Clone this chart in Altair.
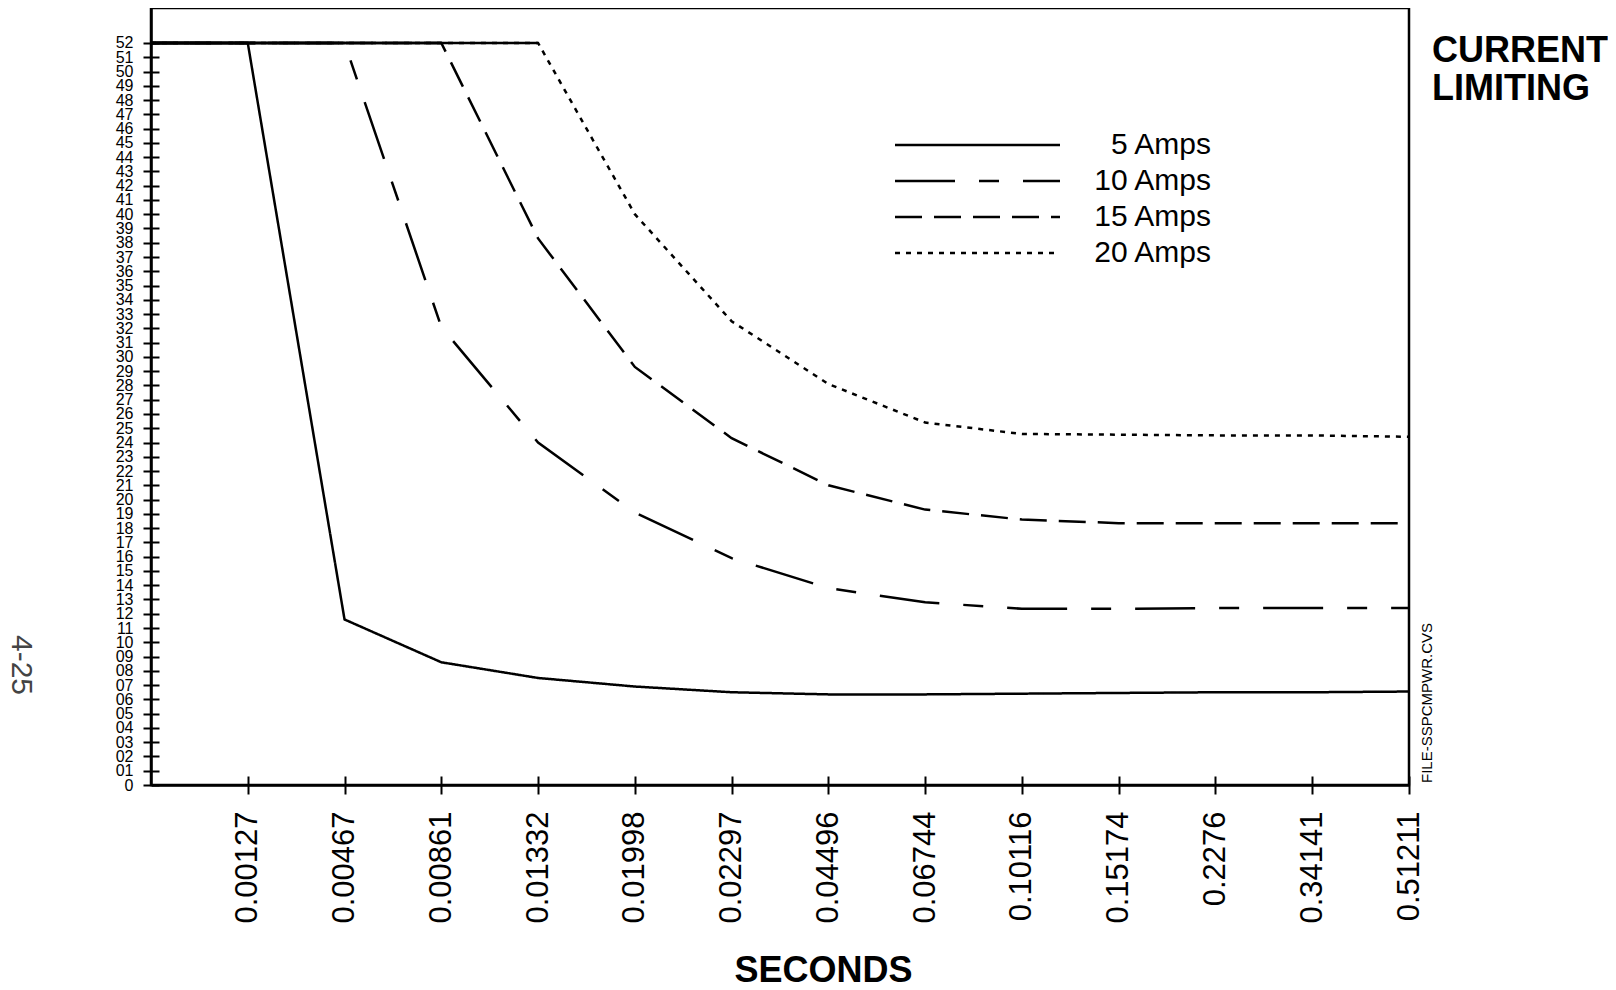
import altair as alt
import pandas as pd

# ---------------- data ----------------
x_labels = ["0.00127", "0.00467", "0.00861", "0.01332", "0.01998", "0.02297",
            "0.04496", "0.06744", "0.10116", "0.15174", "0.2276", "0.34141", "0.51211"]
y_labels = ["0"] + ["%02d" % v for v in range(1, 53)]

series_names = ["5 Amps", "10 Amps", "15 Amps", "20 Amps"]
amps_5 = [52, 52, 11.6, 8.6, 7.5, 6.9, 6.5, 6.35, 6.35, 6.4, 6.45, 6.5, 6.5, 6.55]
amps_10 = [52, 52, 52, 32.1, 24.0, 19.1, 15.9, 13.8, 12.8, 12.35, 12.35, 12.4, 12.4, 12.4]
amps_15 = [52, 52, 52, 52, 38.3, 29.3, 24.3, 21.0, 19.3, 18.6, 18.35, 18.35, 18.35, 18.35]
amps_20 = [52, 52, 52, 52, 52, 40.0, 32.5, 28.1, 25.4, 24.6, 24.55, 24.5, 24.5, 24.4]
limit_value = 52

rows = []
for name, vals in zip(series_names, [amps_5, amps_10, amps_15, amps_20]):
    for i, v in enumerate(vals):
        rows.append({"series": name, "idx": i, "value": v})
df = pd.DataFrame(rows)
legend_df = pd.DataFrame({"series": series_names})
one = pd.DataFrame({"a": [0]})

FONT = "Liberation Sans"
W, H = 1258, 777

x_scale = alt.Scale(domain=[0, 13], nice=False, zero=False)
y_scale = alt.Scale(domain=[0, 54.45], nice=False, zero=True)
dash_scale = alt.Scale(domain=series_names,
                       range=[[1, 0], [60, 24, 20, 24], [27, 12], [5, 6]])

x_expr = "[" + ",".join("'%s'" % s for s in x_labels) + "][datum.value - 1]"
y_expr = "[" + ",".join("'%s'" % s for s in y_labels) + "][datum.value]"
x_vals = list(range(1, 14))
y_vals = list(range(0, 53))

lines = alt.Chart(df).mark_line(color="black", strokeWidth=2.5).encode(
    x=alt.X("idx:Q", scale=x_scale,
            axis=alt.Axis(values=x_vals, labelExpr=x_expr, labelAngle=270,
                          labelFontSize=31, labelPadding=17, labelFlush=False,
                          labelOverlap=False, labelBound=False,
                          tickSize=9, tickWidth=2, domainWidth=2.5,
                          title="SECONDS", titleFontSize=36, titleFontWeight="bold",
                          titleX=672, titleY=196, titleAlign="center",
                          titleBaseline="alphabetic", titleAngle=0)),
    y=alt.Y("value:Q", scale=y_scale,
            axis=alt.Axis(values=y_vals, labelExpr=y_expr, labelFontSize=16,
                          labelPadding=10, labelFlush=False, labelOverlap=False,
                          labelBound=False, tickSize=8, tickWidth=2,
                          domainWidth=2.5, title=None)),
    strokeDash=alt.StrokeDash("series:N", scale=dash_scale, legend=None),
    order="idx:Q",
)

# the shared current-limit plateau is drawn as one solid line
plateau = alt.Chart(df).transform_filter(
    "datum.value >= %s" % limit_value
).mark_line(color="black", strokeWidth=2.5).encode(
    x=alt.X("idx:Q", scale=x_scale, axis=None),
    y=alt.Y("value:Q", scale=y_scale, axis=None),
    detail="series:N",
    order="idx:Q",
)

inner_ticks = alt.Chart(df).mark_line(opacity=0).encode(
    x=alt.X("idx:Q", scale=x_scale,
            axis=alt.Axis(orient="bottom", offset=-9, values=x_vals, labels=False,
                          domain=False, tickSize=9, tickWidth=2, title=None)),
    y=alt.Y("value:Q", scale=y_scale,
            axis=alt.Axis(orient="left", offset=-8, values=y_vals, labels=False,
                          domain=False, tickSize=8, tickWidth=2, title=None)),
    detail="series:N",
)

legend_y = alt.Scale(type="point", domain=series_names, range=[137, 245], padding=0)
legend_lines = alt.Chart(legend_df).mark_rule(color="black", strokeWidth=2.5).encode(
    x=alt.value(744), x2=alt.value(909),
    y=alt.Y("series:N", scale=legend_y, axis=None),
    strokeDash=alt.StrokeDash("series:N", scale=dash_scale, legend=None),
)
legend_text = alt.Chart(legend_df).mark_text(
    align="right", baseline="middle", fontSize=30, font=FONT, color="black"
).encode(
    x=alt.value(1060),
    y=alt.Y("series:N", scale=legend_y, axis=None),
    text="series:N",
)

title_text = alt.Chart(one).mark_text(
    align="left", baseline="alphabetic", fontSize=36, fontWeight="bold",
    font=FONT, color="black", lineHeight=38
).encode(x=alt.value(1281), y=alt.value(54), text=alt.value(["CURRENT", "LIMITING"]))

page_text = alt.Chart(one).mark_text(
    align="center", baseline="middle", fontSize=30, font=FONT, color="#444444", angle=90
).encode(x=alt.value(-130), y=alt.value(657), text=alt.value("4-25"))

file_text = alt.Chart(one).mark_text(
    align="left", baseline="middle", fontSize=15, font=FONT, color="black", angle=270
).encode(x=alt.value(1276), y=alt.value(775), text=alt.value("FILE-SSPCMPWR.CVS"))

chart = alt.layer(
    lines, plateau, inner_ticks, legend_lines, legend_text, title_text, page_text, file_text
).resolve_scale(
    x="independent", y="independent"
).properties(
    width=W, height=H,
    autosize=alt.AutoSizeParams(type="none"),
    padding={"left": 143, "top": 0, "right": 199, "bottom": 197},
).configure_view(
    stroke="black", strokeWidth=2.5
).configure_axis(
    domainColor="black", tickColor="black", labelColor="black",
    titleColor="black", labelFont=FONT, titleFont=FONT, grid=False
)

chart.save("out.html", embed_options={"renderer": "svg", "actions": False})
